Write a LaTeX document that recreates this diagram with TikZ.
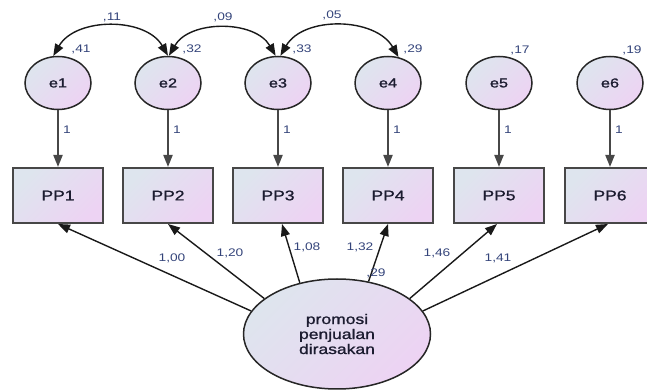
\documentclass[tikz,border=0pt]{standalone}
\usepackage{fontspec}
\setmainfont[FakeStretch=1.25]{Liberation Sans}
\newfontfamily\lblfont[FakeStretch=1.25,FakeBold=1.2]{Liberation Sans}
\usetikzlibrary{arrows.meta,shapes.geometric}
\definecolor{fillA}{RGB}{222,229,238}
\definecolor{fillB}{RGB}{237,211,243}
\definecolor{numc}{RGB}{52,68,122}
\definecolor{txtc}{RGB}{28,28,48}
\definecolor{edgec}{RGB}{38,38,38}
\begin{document}
\begin{tikzpicture}[x=1pt,y=1pt,
  shadefill/.style={top color=fillA, bottom color=fillB, shading angle=45},
  err/.style={ellipse, draw=edgec, line width=1.5pt, minimum width=66pt, minimum height=53pt,
    inner sep=0pt, shadefill, text=txtc, font=\lblfont\fontsize{13}{15}\selectfont},
  obs/.style={rectangle, draw=edgec!85, line width=2pt, minimum width=90pt, minimum height=55pt,
    inner sep=0pt, shadefill, text=txtc, font=\lblfont\fontsize{14}{16}\selectfont},
  lat/.style={ellipse, draw=edgec, line width=1.5pt, minimum width=187pt, minimum height=110pt,
    inner sep=0pt, shadefill, text=txtc, align=center, font=\lblfont\fontsize{14}{15}\selectfont},
  num/.style={inner sep=0pt, text=numc, font=\fontsize{11}{12}\selectfont},
  arr/.style={-{Triangle[length=12pt,width=9pt]}, line width=1.4pt, draw=black!90},
  darr/.style={-{Triangle[length=12pt,width=9pt]}, line width=2pt, draw=edgec!85},
  cov/.style={{Triangle[length=12pt,width=9pt]}-{Triangle[length=12pt,width=9pt]}, line width=1.4pt, draw=black!90}
]
\clip (0,0) rectangle (647,390);
\useasboundingbox (0,0) rectangle (647,390);

% error terms
\node[err] (e1) at (58,307) {e1};
\node[err] (e2) at (168,307) {e2};
\node[err] (e3) at (278,307) {e3};
\node[err] (e4) at (388,307) {e4};
\node[err] (e5) at (499,307) {e5};
\node[err] (e6) at (610,307) {e6};

% observed
\node[obs] (p1) at (58,194.5) {PP1};
\node[obs] (p2) at (168,194.5) {PP2};
\node[obs] (p3) at (278,194.5) {PP3};
\node[obs] (p4) at (388,194.5) {PP4};
\node[obs] (p5) at (499,194.5) {PP5};
\node[obs] (p6) at (610,194.5) {PP6};

% latent
\node[lat] (f) at (337,56) {promosi\\penjualan\\dirasakan};

% error -> observed
\foreach \i in {1,...,6}{
  \draw[darr] (e\i.south) -- (p\i.north) node[num, pos=0.35, right=4pt] {1};
}

% variances
\node[num] (v1) at (81,341) {,41};
\node[num] (v2) at (192,341) {,32};
\node[num] (v3) at (302,341) {,33};
\node[num] (v4) at (413,341) {,29};
\node[num] (v5) at (520,340) {,17};
\node[num] (v6) at (632,340) {,19};

% covariances
\draw[cov] (e1.100) to[out=60,in=120] (e2.north);
\draw[cov] (e2.88) to[out=60,in=120] (e3.95);
\draw[cov] (e3.85) to[out=60,in=120] (e4.68);
\node[num] (c12) at (112,373) {,11};
\node[num] (c23) at (223,373) {,09};
\node[num] (c34) at (332,375) {,05};

% loadings
\draw[arr] (f.165) -- (p1.south);
\draw[arr] (f.154) -- (p2.south);
\draw[arr] (f.126) -- ([xshift=4pt]p3.south);
\draw[arr] (f.59.5) -- (p4.south);
\draw[arr] (f.26) -- ([xshift=-2pt]p5.south);
\draw[arr] (f.15) -- ([xshift=-2pt]p6.south);

\node[num] (l1) at (172,132) {1,00};
\node[num] (l2) at (230,137) {1,20};
\node[num] (l3) at (307,143) {1,08};
\node[num] (l4) at (360,143) {1,32};
\node[num] (l5) at (437,137) {1,46};
\node[num] (l6) at (498,132) {1,41};
\node[num] (r1) at (376,117) {,29};
\end{tikzpicture}
\end{document}
